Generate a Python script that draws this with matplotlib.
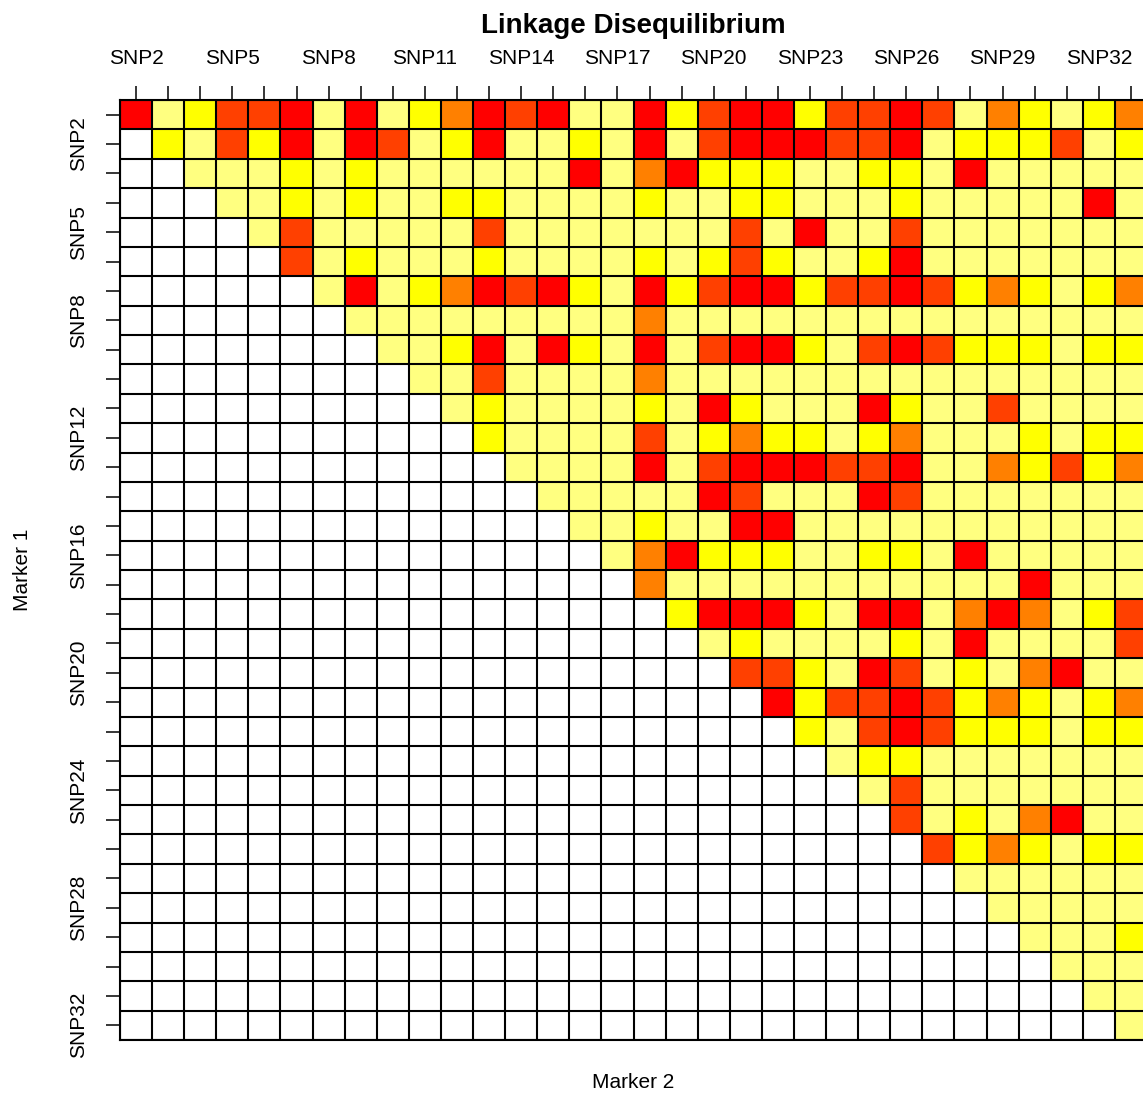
import numpy as np
import matplotlib.pyplot as plt
from matplotlib.colors import ListedColormap

plt.rcParams["font.family"] = ["Liberation Sans", "DejaVu Sans"]

# rows = Marker 1 (SNP1..SNP32), columns = Marker 2 (SNP2..SNP33)
marker1 = ["SNP%d" % i for i in range(1, 33)]
marker2 = ["SNP%d" % i for i in range(2, 34)]

# only these names are printed on the axes
xlabels_shown = ["SNP2", "SNP5", "SNP8", "SNP11", "SNP14", "SNP17",
                 "SNP20", "SNP23", "SNP26", "SNP29", "SNP32"]
ylabels_shown = ["SNP2", "SNP5", "SNP8", "SNP12", "SNP16",
                 "SNP20", "SNP24", "SNP28", "SNP32"]

# LD class of every cell
# R red, O orange-red, A orange, Y yellow, L pale yellow, '.' empty
ld_rows = [
    "RLYOORLRLYARORLL" + "RYORRYOOROLAYLYA",
    ".YLOYRLROLYRLLYL" + "RLORRROORLYYYOLY",
    "..LLLYLYLLLLLLRL" + "ARYYYLLYYLRLLLLL",
    "...LLYLYLLYYLLLL" + "YLLYYLLLYLLLLLRL",
    "....LOLLLLLOLLLL" + "LLLOLRLLOLLLLLLL",
    ".....OLYLLLYLLLL" + "YLYOYLLYRLLLLLLL",
    "......LRLYARORYL" + "RYORRYOOROYAYLYA",
    ".......LLLLLLLLL" + "ALLLLLLLLLLLLLLL",
    "........LLYRLRYL" + "RLORRYLOROYYYLYY",
    ".........LLOLLLL" + "ALLLLLLLLLLLLLLL",
    "..........LYLLLL" + "YLRYLLLRYLLOLLLL",
    "...........YLLLL" + "OLYAYYLYALLLYLYY",
    "............LLLL" + "RLORRROORLLAYOYA",
    ".............LLL" + "LLROLLLROLLLLLLL",
    "..............LL" + "YLLRRLLLLLLLLLLL",
    "...............L" + "ARYYYLLYYLRLLLLL",
    "................" + "ALLLLLLLLLLLRLLL",
    "................." + "YRRRYLRRLARALYO",
    ".................." + "LYLLLLYLRLLLLO",
    "..................." + "OOYLROLYLARLL",
    "...................." + "RYOOROYAYLYA",
    "....................." + "YLOROYYYLYY",
    "......................" + "LYYLLLLLLL",
    "......................." + "LOLLLLLLL",
    "........................" + "OLYLARLL",
    "........................." + "OYAYLYY",
    ".........................." + "LLLLLL",
    "..........................." + "LLLLL",
    "............................" + "LLLY",
    "............................." + "LLL",
    ".............................." + "LL",
    "..............................." + "L",
]
ld_codes = "ROAYL"
ld_colors = ["#FF0000", "#FF4000", "#FF8000", "#FFFF00", "#FFFF80"]

Z = np.array([[ld_codes.index(c) if c != "." else np.nan for c in row]
              for row in ld_rows], dtype=float)

W, H = 1143, 1095
fig = plt.figure(figsize=(W / 100, H / 100), dpi=100)
ax = fig.add_axes([120 / W, 1 - 1040 / H, 1027 / W, 940 / H])

ax.pcolormesh(np.arange(len(marker2) + 1), np.arange(len(marker1) + 1),
              np.ma.masked_invalid(Z), cmap=ListedColormap(ld_colors),
              vmin=-0.5, vmax=len(ld_colors) - 0.5)
ax.set_xlim(0, len(marker2))
ax.set_ylim(len(marker1), 0)

# cell borders
ax.set_xticks(np.arange(len(marker2) + 1), minor=True)
ax.set_yticks(np.arange(len(marker1) + 1), minor=True)
ax.grid(which="minor", color="black", lw=1.5)
ax.set_axisbelow(False)
ax.tick_params(which="minor", length=0)

ax.xaxis.tick_top()
ax.set_xticks(np.arange(len(marker2)) + 0.5)
ax.set_xticklabels([m if m in xlabels_shown else "" for m in marker2])
ax.set_yticks(np.arange(len(marker1)) + 0.5)
ax.set_yticklabels([m if m in ylabels_shown else "" for m in marker1],
                   rotation=90, va="center")
ax.tick_params(which="major", length=10, width=1.1, pad=13, labelsize=15)
for s in ax.spines.values():
    s.set_linewidth(1.5)

ax.text(0.5, 1 + 74 / 940, "Linkage Disequilibrium", transform=ax.transAxes,
        ha="center", va="center", fontsize=20, fontweight="bold")
ax.text(0.5, -43 / 940, "Marker 2", transform=ax.transAxes,
        ha="center", va="center", fontsize=15)
ax.text(-98 / 1027, 0.5, "Marker 1", transform=ax.transAxes,
        ha="center", va="center", rotation=90, fontsize=15)

fig.savefig("out.png", dpi=100)
